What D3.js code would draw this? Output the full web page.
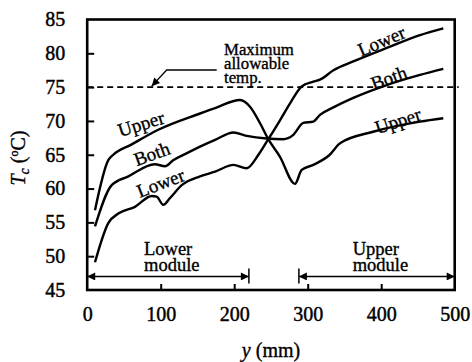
<!DOCTYPE html>
<head>
<meta charset="utf-8">
<script src="https://d3js.org/d3.v7.min.js"></script>
</head>
<style>
body { margin: 0; background: #fff; }
.curve { fill: none; stroke: #000; stroke-width: 2.4px; stroke-linejoin: round; }
</style>
<body>
<script>
// positions along module (mm) and cell temperature (deg C)
var lowerPos = [10.6, 28.7, 42.3, 65, 87.8, 94.5, 103.5, 112.7, 128.6, 153.5, 174, 199, 217, 233, 246.4, 262.3, 276, 291.8, 307.6, 316.7, 335, 362, 407.5, 452.8, 484.5];
var lowerT   = [49.1, 54.9, 56.3, 57.3, 58.9, 58.8, 57.6, 58.6, 60.5, 61.8, 62.5, 63.5, 63.0, 65.0, 67.3, 70.1, 72.6, 75.1, 75.8, 76.1, 77.5, 78.8, 80.8, 82.7, 83.7];
var bothPos  = [10.6, 33.3, 56, 92, 106, 117, 133, 153.5, 174, 199, 217, 244, 267, 280, 294, 307.6, 316.7, 335, 362, 407.5, 452.8, 484.5];
var bothT    = [54.4, 60.5, 61.8, 63.6, 63.3, 64.2, 65.1, 66.2, 67.2, 68.3, 67.8, 67.4, 67.3, 67.9, 69.7, 69.9, 70.9, 72.0, 73.4, 75.3, 76.8, 77.7];
var upperPos = [10.6, 28.7, 35.5, 60, 96.7, 153.5, 174, 208, 221.5, 235, 246.4, 262.3, 282.7, 291.8, 307.6, 330, 344, 389, 452.8, 484.5];
var upperT   = [56.8, 64.2, 65.0, 66.5, 68.7, 71.1, 71.9, 73.1, 72.1, 69.7, 67.3, 64.7, 60.7, 62.75, 63.5, 65.0, 66.7, 68.4, 69.9, 70.4];

var xTicks = [0, 100, 200, 300, 400, 500];
var yTicks = [45, 50, 55, 60, 65, 70, 75, 80, 85];
var maxTemp = 75;
var lowerModule = [0, 220];
var upperModule = [288, 500];

var FONT = "'Liberation Serif', 'Times New Roman', Tinos, serif";

var margin = {top: 19.5, right: 17.3, bottom: 72, left: 87.2},
    width = 472 - margin.left - margin.right,
    height = 362 - margin.top - margin.bottom;

var x = d3.scaleLinear().domain([0, 500]).range([0, width]);
var y = d3.scaleLinear().domain([45, 85]).range([height, 0]);

var svg = d3.select("body").append("svg")
    .attr("width", 472)
    .attr("height", 362)
    .style("font-family", FONT);
var defs = svg.append("defs");
defs.append("marker").attr("id", "ah")
    .attr("viewBox", "0 0 10 10").attr("refX", 10).attr("refY", 5)
    .attr("markerWidth", 11).attr("markerHeight", 8).attr("markerUnits", "userSpaceOnUse")
    .attr("orient", "auto-start-reverse")
  .append("path").attr("d", "M0,0L10,5L0,10z").attr("fill", "#000");

function txt(sel, size) {
  return sel.append("text").style("font-family", FONT).style("font-size", size + "px")
      .attr("fill", "#000").attr("stroke", "#000").attr("stroke-width", 0.35);
}

var g = svg.append("g")
    .attr("transform", "translate(" + margin.left + "," + margin.top + ")");

// curves
var line = d3.line()
    .x(function(d) { return x(d[0]); })
    .y(function(d) { return y(d[1]); })
    .curve(d3.curveMonotoneX);
[[lowerPos, lowerT], [bothPos, bothT], [upperPos, upperT]].forEach(function(s) {
  g.append("path")
      .datum(d3.zip(s[0], s[1]))
      .attr("class", "curve")
      .attr("d", line);
});

// maximum allowable temperature
g.append("line")
    .attr("x1", 0).attr("x2", width + 4)
    .attr("y1", y(maxTemp)).attr("y2", y(maxTemp))
    .attr("stroke", "#000").attr("stroke-width", 1.6)
    .attr("stroke-dasharray", "6,4");
g.append("path")
    .attr("d", "M" + (216.7 - margin.left) + "," + (70 - margin.top) +
               "H" + (166.7 - margin.left) + "L" + (151.7 - margin.left) + "," + (y(maxTemp) - 1))
    .attr("fill", "none").attr("stroke", "#000").attr("stroke-width", 1.3)
    .attr("marker-end", "url(#ah)");
var mt = txt(g, 16.8);
["Maximum", "allowable", "temp."].forEach(function(t, i) {
  mt.append("tspan").attr("x", 224 - margin.left).attr("y", 55 - margin.top + i * 13.8).text(t);
});

// module extents
function moduleArrow(ext, label, lx) {
  var yy = y(47.0);
  g.append("line")
      .attr("x1", x(ext[0])).attr("x2", x(ext[1]))
      .attr("y1", yy).attr("y2", yy)
      .attr("stroke", "#000").attr("stroke-width", 1.5)
      .attr("marker-start", "url(#ah)").attr("marker-end", "url(#ah)");
  [ext[0], ext[1]].forEach(function(v) {
    if (v > 0 && v < 500) {
      g.append("line").attr("x1", x(v)).attr("x2", x(v))
          .attr("y1", yy - 8).attr("y2", yy + 7)
          .attr("stroke", "#000").attr("stroke-width", 1.5);
    }
  });
  var t = txt(g, 18.5);
  label.forEach(function(s, i) {
    t.append("tspan").attr("x", lx - margin.left).attr("y", [255, 271][i] - margin.top).text(s);
  });
}
moduleArrow(lowerModule, ["Lower", "module"], 144);
moduleArrow(upperModule, ["Upper", "module"], 352.7);

// curve labels
var labels = [
  ["Upper", 143, 130, -17], ["Both", 154, 160, -20], ["Lower", 163, 189, -21],
  ["Lower", 384, 47, -23], ["Both", 391, 84, -20], ["Upper", 400, 127, -18]
];
labels.forEach(function(l) {
  txt(g, 19)
      .attr("transform", "translate(" + (l[1] - margin.left) + "," + (l[2] - margin.top) + ") rotate(" + l[3] + ")")
      .attr("text-anchor", "middle")
      .text(l[0]);
});

// frame and axes
g.append("rect")
    .attr("width", width).attr("height", height)
    .attr("fill", "none").attr("stroke", "#000").attr("stroke-width", 2.6);
var xAxis = g.append("g")
    .attr("transform", "translate(0," + height + ")")
    .call(d3.axisBottom(x).tickValues(xTicks).tickSizeInner(-6).tickSizeOuter(0).tickPadding(17));
var yAxis = g.append("g")
    .call(d3.axisLeft(y).tickValues(yTicks).tickSizeInner(-7).tickSizeOuter(0).tickPadding(22));
[xAxis, yAxis].forEach(function(a) {
  a.attr("font-family", null).attr("font-size", null);
  a.select(".domain").remove();
  a.selectAll("line").attr("stroke-width", 2);
  a.selectAll("text").style("font-family", FONT).style("font-size", "20px")
      .attr("stroke", "#000").attr("stroke-width", 0.45);
});
xAxis.selectAll(".tick").filter(function(d) { return d === 0 || d === 500; }).select("line").remove();
yAxis.selectAll(".tick").filter(function(d) { return d === 45 || d === 85; }).select("line").remove();

// axis titles
var xt = txt(svg, 20)
    .attr("x", 271).attr("y", 357)
    .attr("text-anchor", "middle");
xt.append("tspan").style("font-style", "italic").text("y");
xt.append("tspan").text(" (mm)");

var yt = txt(svg, 20)
    .attr("transform", "translate(25,158) rotate(-90)")
    .attr("text-anchor", "middle");
yt.append("tspan").style("font-style", "italic").text("T");
yt.append("tspan").style("font-style", "italic").style("font-size", "14px").attr("dy", 4).text("c");
yt.append("tspan").attr("dy", -4).text(" (");
yt.append("tspan").style("font-size", "12px").attr("dy", -7).text("o");
yt.append("tspan").attr("dy", 7).text("C)");
</script>
</body>
